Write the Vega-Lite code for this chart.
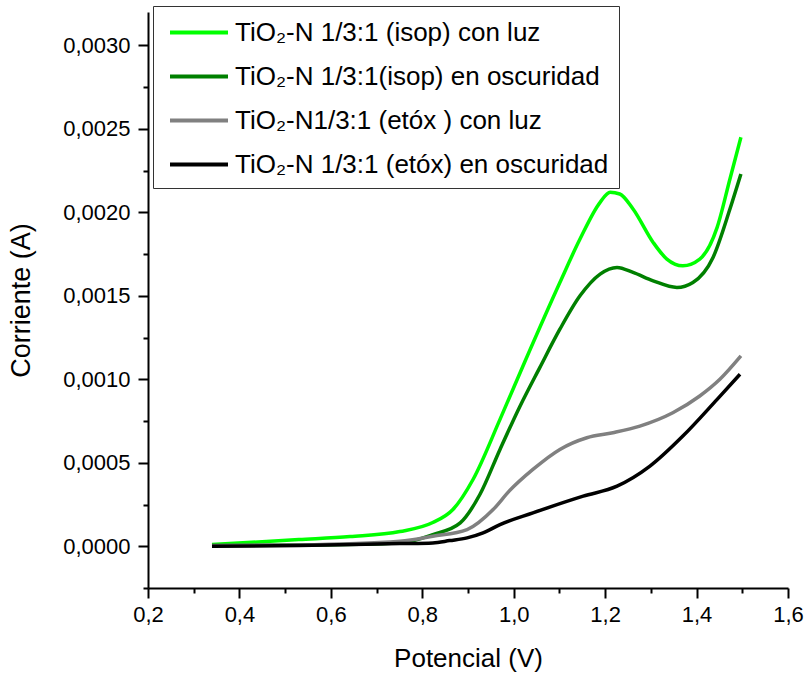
{
  "$schema": "https://vega.github.io/schema/vega-lite/v6.json",
  "width": 640,
  "height": 576,
  "autosize": "none",
  "padding": {"left": 148, "top": 12, "right": 16, "bottom": 86},
  "background": "white",
  "config": {
    "locale": {"number": {"decimal": ",", "thousands": ".", "grouping": [3], "currency": ["", ""]}},
    "view": {"stroke": null},
    "font": "Liberation Sans"
  },
  "data": {
    "values": [
      {"s": "TiO₂-N 1/3:1 (isop) con luz", "x": 0.34, "y": 0.00001},
      {"s": "TiO₂-N 1/3:1 (isop) con luz", "x": 0.53, "y": 0.00004},
      {"s": "TiO₂-N 1/3:1 (isop) con luz", "x": 0.642, "y": 0.000058},
      {"s": "TiO₂-N 1/3:1 (isop) con luz", "x": 0.751, "y": 0.000088},
      {"s": "TiO₂-N 1/3:1 (isop) con luz", "x": 0.823, "y": 0.000142},
      {"s": "TiO₂-N 1/3:1 (isop) con luz", "x": 0.867, "y": 0.00022},
      {"s": "TiO₂-N 1/3:1 (isop) con luz", "x": 0.911, "y": 0.0004},
      {"s": "TiO₂-N 1/3:1 (isop) con luz", "x": 0.97, "y": 0.00076},
      {"s": "TiO₂-N 1/3:1 (isop) con luz", "x": 1.025, "y": 0.00111},
      {"s": "TiO₂-N 1/3:1 (isop) con luz", "x": 1.101, "y": 0.00158},
      {"s": "TiO₂-N 1/3:1 (isop) con luz", "x": 1.145, "y": 0.00184},
      {"s": "TiO₂-N 1/3:1 (isop) con luz", "x": 1.189, "y": 0.00206},
      {"s": "TiO₂-N 1/3:1 (isop) con luz", "x": 1.211, "y": 0.00212},
      {"s": "TiO₂-N 1/3:1 (isop) con luz", "x": 1.232, "y": 0.00211},
      {"s": "TiO₂-N 1/3:1 (isop) con luz", "x": 1.261, "y": 0.00202},
      {"s": "TiO₂-N 1/3:1 (isop) con luz", "x": 1.305, "y": 0.00182},
      {"s": "TiO₂-N 1/3:1 (isop) con luz", "x": 1.335, "y": 0.00172},
      {"s": "TiO₂-N 1/3:1 (isop) con luz", "x": 1.37, "y": 0.00168},
      {"s": "TiO₂-N 1/3:1 (isop) con luz", "x": 1.407, "y": 0.00172},
      {"s": "TiO₂-N 1/3:1 (isop) con luz", "x": 1.445, "y": 0.00191},
      {"s": "TiO₂-N 1/3:1 (isop) con luz", "x": 1.473, "y": 0.0022},
      {"s": "TiO₂-N 1/3:1 (isop) con luz", "x": 1.497, "y": 0.00245},

      {"s": "\u00a0TiO₂-N 1/3:1(isop) en oscuridad", "x": 0.34, "y": 0.000004},
      {"s": "\u00a0TiO₂-N 1/3:1(isop) en oscuridad", "x": 0.53, "y": 0.000007},
      {"s": "\u00a0TiO₂-N 1/3:1(isop) en oscuridad", "x": 0.751, "y": 0.00002},
      {"s": "\u00a0TiO₂-N 1/3:1(isop) en oscuridad", "x": 0.823, "y": 0.00007},
      {"s": "\u00a0TiO₂-N 1/3:1(isop) en oscuridad", "x": 0.883, "y": 0.00014},
      {"s": "\u00a0TiO₂-N 1/3:1(isop) en oscuridad", "x": 0.926, "y": 0.00031},
      {"s": "\u00a0TiO₂-N 1/3:1(isop) en oscuridad", "x": 0.97, "y": 0.00058},
      {"s": "\u00a0TiO₂-N 1/3:1(isop) en oscuridad", "x": 1.014, "y": 0.00084},
      {"s": "\u00a0TiO₂-N 1/3:1(isop) en oscuridad", "x": 1.057, "y": 0.00107},
      {"s": "\u00a0TiO₂-N 1/3:1(isop) en oscuridad", "x": 1.101, "y": 0.0013},
      {"s": "\u00a0TiO₂-N 1/3:1(isop) en oscuridad", "x": 1.145, "y": 0.0015},
      {"s": "\u00a0TiO₂-N 1/3:1(isop) en oscuridad", "x": 1.189, "y": 0.00163},
      {"s": "\u00a0TiO₂-N 1/3:1(isop) en oscuridad", "x": 1.226, "y": 0.00167},
      {"s": "\u00a0TiO₂-N 1/3:1(isop) en oscuridad", "x": 1.261, "y": 0.00164},
      {"s": "\u00a0TiO₂-N 1/3:1(isop) en oscuridad", "x": 1.305, "y": 0.00159},
      {"s": "\u00a0TiO₂-N 1/3:1(isop) en oscuridad", "x": 1.357, "y": 0.00155},
      {"s": "\u00a0TiO₂-N 1/3:1(isop) en oscuridad", "x": 1.392, "y": 0.00158},
      {"s": "\u00a0TiO₂-N 1/3:1(isop) en oscuridad", "x": 1.436, "y": 0.00173},
      {"s": "\u00a0TiO₂-N 1/3:1(isop) en oscuridad", "x": 1.473, "y": 0.00202},
      {"s": "\u00a0TiO₂-N 1/3:1(isop) en oscuridad", "x": 1.497, "y": 0.00223},

      {"s": "\u00a0TiO₂-N1/3:1 (etóx ) con luz", "x": 0.34, "y": 0.000004},
      {"s": "\u00a0TiO₂-N1/3:1 (etóx ) con luz", "x": 0.53, "y": 0.000008},
      {"s": "\u00a0TiO₂-N1/3:1 (etóx ) con luz", "x": 0.751, "y": 0.00003},
      {"s": "\u00a0TiO₂-N1/3:1 (etóx ) con luz", "x": 0.823, "y": 0.00006},
      {"s": "\u00a0TiO₂-N1/3:1 (etóx ) con luz", "x": 0.898, "y": 0.0001},
      {"s": "\u00a0TiO₂-N1/3:1 (etóx ) con luz", "x": 0.955, "y": 0.00022},
      {"s": "\u00a0TiO₂-N1/3:1 (etóx ) con luz", "x": 0.99, "y": 0.00033},
      {"s": "\u00a0TiO₂-N1/3:1 (etóx ) con luz", "x": 1.042, "y": 0.00046},
      {"s": "\u00a0TiO₂-N1/3:1 (etóx ) con luz", "x": 1.101, "y": 0.00058},
      {"s": "\u00a0TiO₂-N1/3:1 (etóx ) con luz", "x": 1.16, "y": 0.00065},
      {"s": "\u00a0TiO₂-N1/3:1 (etóx ) con luz", "x": 1.217, "y": 0.00068},
      {"s": "\u00a0TiO₂-N1/3:1 (etóx ) con luz", "x": 1.276, "y": 0.00072},
      {"s": "\u00a0TiO₂-N1/3:1 (etóx ) con luz", "x": 1.348, "y": 0.0008},
      {"s": "\u00a0TiO₂-N1/3:1 (etóx ) con luz", "x": 1.407, "y": 0.0009},
      {"s": "\u00a0TiO₂-N1/3:1 (etóx ) con luz", "x": 1.451, "y": 0.001},
      {"s": "\u00a0TiO₂-N1/3:1 (etóx ) con luz", "x": 1.497, "y": 0.00114},

      {"s": "TiO₂-N 1/3:1 (etóx) en oscuridad", "x": 0.34, "y": 0.0},
      {"s": "TiO₂-N 1/3:1 (etóx) en oscuridad", "x": 0.53, "y": 0.000004},
      {"s": "TiO₂-N 1/3:1 (etóx) en oscuridad", "x": 0.751, "y": 0.000016},
      {"s": "TiO₂-N 1/3:1 (etóx) en oscuridad", "x": 0.823, "y": 0.00002},
      {"s": "TiO₂-N 1/3:1 (etóx) en oscuridad", "x": 0.86, "y": 0.000034},
      {"s": "TiO₂-N 1/3:1 (etóx) en oscuridad", "x": 0.898, "y": 0.00005},
      {"s": "TiO₂-N 1/3:1 (etóx) en oscuridad", "x": 0.933, "y": 0.00008},
      {"s": "TiO₂-N 1/3:1 (etóx) en oscuridad", "x": 0.97, "y": 0.00013},
      {"s": "TiO₂-N 1/3:1 (etóx) en oscuridad", "x": 1.042, "y": 0.0002},
      {"s": "TiO₂-N 1/3:1 (etóx) en oscuridad", "x": 1.152, "y": 0.0003},
      {"s": "TiO₂-N 1/3:1 (etóx) en oscuridad", "x": 1.226, "y": 0.00036},
      {"s": "TiO₂-N 1/3:1 (etóx) en oscuridad", "x": 1.298, "y": 0.00048},
      {"s": "TiO₂-N 1/3:1 (etóx) en oscuridad", "x": 1.37, "y": 0.00066},
      {"s": "TiO₂-N 1/3:1 (etóx) en oscuridad", "x": 1.445, "y": 0.00088},
      {"s": "TiO₂-N 1/3:1 (etóx) en oscuridad", "x": 1.495, "y": 0.00103}
    ]
  },
  "mark": {"type": "line", "interpolate": "monotone", "strokeWidth": 3.5},
  "encoding": {
    "x": {
      "field": "x", "type": "quantitative",
      "scale": {"domain": [0.2, 1.6], "nice": false, "zero": false},
      "axis": {
        "title": "Potencial (V)",
        "values": [0.2, 0.3, 0.4, 0.5, 0.6, 0.7, 0.8, 0.9, 1.0, 1.1, 1.2, 1.3, 1.4, 1.5, 1.6],
        "format": ".1f",
        "labelExpr": "round(datum.value*10) % 2 ? '' : datum.label",
        "grid": false,
        "domainColor": "black", "domainWidth": 2,
        "tickColor": "black", "tickWidth": 2,
        "tickSize": {"condition": {"test": "round(datum.value*10) % 2", "value": 5}, "value": 10},
        "labelFont": "Liberation Sans", "labelFontSize": 22, "labelColor": "black",
        "labelPadding": 6, "labelFlush": false, "labelOverlap": false,
        "titleFont": "Liberation Sans", "titleFontSize": 26, "titleFontWeight": "normal", "titleColor": "black",
        "titlePadding": 20
      }
    },
    "y": {
      "field": "y", "type": "quantitative",
      "scale": {"domain": [-0.00025, 0.0032], "nice": false, "zero": false},
      "axis": {
        "title": "Corriente (A)",
        "values": [-0.00025, 0, 0.00025, 0.0005, 0.00075, 0.001, 0.00125, 0.0015, 0.00175, 0.002, 0.00225, 0.0025, 0.00275, 0.003],
        "format": ".4f",
        "labelExpr": "round(datum.value*4000) % 2 ? '' : datum.label",
        "grid": false,
        "domainColor": "black", "domainWidth": 2,
        "tickColor": "black", "tickWidth": 2,
        "tickSize": {"condition": {"test": "round(datum.value*4000) % 2", "value": 5}, "value": 10},
        "labelFont": "Liberation Sans", "labelFontSize": 22, "labelColor": "black",
        "labelPadding": 8, "labelFlush": false, "labelOverlap": false,
        "titleFont": "Liberation Sans", "titleFontSize": 27, "titleFontWeight": "normal", "titleColor": "black",
        "titlePadding": 27
      }
    },
    "color": {
      "field": "s", "type": "nominal",
      "scale": {
        "domain": ["TiO₂-N 1/3:1 (isop) con luz", "\u00a0TiO₂-N 1/3:1(isop) en oscuridad", "\u00a0TiO₂-N1/3:1 (etóx ) con luz", "TiO₂-N 1/3:1 (etóx) en oscuridad"],
        "range": ["#00ff00", "#008000", "#808080", "#000000"]
      },
      "legend": {
        "title": null,
        "orient": "none",
        "legendX": 5,
        "legendY": -6,
        "strokeColor": "#333333",
        "fillColor": "white",
        "padding": 10,
        "symbolType": "M-0.655,0H3.345",
        "symbolStrokeWidth": 4,
        "symbolSize": 841,
        "labelFont": "Liberation Sans",
        "labelFontSize": 26,
        "labelColor": "black",
        "labelLimit": 600,
        "rowPadding": 14,
        "labelOffset": 39
      }
    }
  }
}
